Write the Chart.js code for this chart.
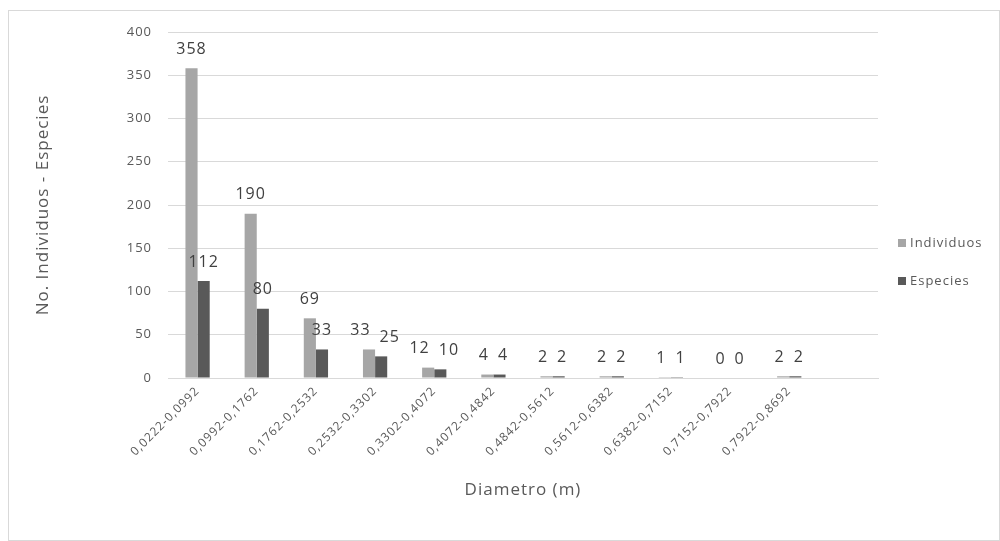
<!DOCTYPE html>
<html>
<head>
<meta charset="utf-8">
<script src="https://cdn.jsdelivr.net/npm/chart.js@4.4.0/dist/chart.umd.min.js"></script>
<style>
    html, body { margin: 0; padding: 0; background: #fff; }
    #frame {
        position: absolute; left: 8px; top: 10px;
        width: 990px; height: 529px;
        border: 1px solid #d9d9d9;
    }
    canvas { display: block; }
</style>
</head>
<body>
<div id="frame"><canvas id="chart" width="990" height="529"></canvas></div>
<script>
// Data (the source chart leaves one empty category at the end)
const categories = ['0,0222-0,0992', '0,0992-0,1762', '0,1762-0,2532', '0,2532-0,3302', '0,3302-0,4072',
    '0,4072-0,4842', '0,4842-0,5612', '0,5612-0,6382', '0,6382-0,7152', '0,7152-0,7922', '0,7922-0,8692', ''];
const individuos = [358, 190, 69, 33, 12, 4, 2, 2, 1, 0, 2];
const especies = [112, 80, 33, 25, 10, 4, 2, 2, 1, 0, 2];
const yTicks = [0, 50, 100, 150, 200, 250, 300, 350, 400];

const FONT = '"Open Sans", sans-serif';
const TEXT = '#595959';

// the source text is spaced out a bit, keep it on the context
const spacing = {
    id: 'spacing',
    beforeUpdate(chart) { chart.ctx.letterSpacing = '1px'; },
    beforeDraw(chart) { chart.ctx.letterSpacing = '1px'; }
};

// value labels above each bar; pairs that would touch are pushed apart
const barLabels = {
    id: 'barLabels',
    afterDatasetsDraw(chart) {
        const ctx = chart.ctx;
        const a = chart.getDatasetMeta(0).data;
        const b = chart.getDatasetMeta(1).data;
        const da = chart.data.datasets[0].data;
        const db = chart.data.datasets[1].data;
        ctx.save();
        ctx.font = '16px ' + FONT;
        ctx.fillStyle = '#404040';
        ctx.textAlign = 'center';
        ctx.textBaseline = 'middle';
        a.forEach((barA, j) => {
            const barB = b[j];
            const tA = String(da[j]), tB = String(db[j]);
            let xA = barA.x, xB = barB.x;
            const need = (ctx.measureText(tA).width + ctx.measureText(tB).width) / 2 + 9;
            const close = Math.abs(barA.y - barB.y) < 18;
            if (close && xB - xA < need) {
                const mid = (xA + xB) / 2;
                xA = mid - need / 2;
                xB = mid + need / 2;
            }
            ctx.fillText(tA, xA, barA.y - 19);
            ctx.fillText(tB, xB, barB.y - 19);
        });
        ctx.restore();
    }
};

// legend on the right, drawn from the datasets
const sideLegend = {
    id: 'sideLegend',
    afterDraw(chart) {
        const ctx = chart.ctx;
        const x = chart.chartArea.right + 20;
        const ys = [232, 270];
        ctx.save();
        ctx.font = '13px ' + FONT;
        ctx.textBaseline = 'middle';
        ctx.textAlign = 'left';
        chart.data.datasets.forEach((ds, i) => {
            ctx.fillStyle = ds.backgroundColor;
            ctx.fillRect(x, ys[i] - 4, 8, 8);
            ctx.fillStyle = TEXT;
            ctx.fillText(ds.label, x + 12, ys[i]);
        });
        ctx.restore();
    }
};

new Chart(document.getElementById('chart'), {
    type: 'bar',
    data: {
        labels: categories,
        datasets: [
            { label: 'Individuos', data: individuos, backgroundColor: '#a6a6a6' },
            { label: 'Especies', data: especies, backgroundColor: '#595959' }
        ]
    },
    options: {
        responsive: false,
        animation: false,
        layout: { padding: { top: 21, right: 121, bottom: 0, left: 0 } },
        datasets: { bar: { categoryPercentage: 0.41, barPercentage: 1.0 } },
        plugins: {
            legend: { display: false },
            tooltip: { enabled: false }
        },
        scales: {
            x: {
                grid: { display: false, drawTicks: false },
                border: { display: true, color: '#d9d9d9' },
                ticks: {
                    color: TEXT, font: { family: FONT, size: 12 },
                    minRotation: 45, maxRotation: 45, padding: 6, autoSkip: false
                },
                title: {
                    display: true, text: 'Diametro (m)', color: TEXT,
                    font: { family: FONT, size: 17 }, padding: { top: 4, bottom: 40 }
                },
                afterFit: s => { s.height = 162; }
            },
            y: {
                min: 0, max: 400,
                afterBuildTicks: s => { s.ticks = yTicks.map(v => ({ value: v })); },
                grid: { color: '#d9d9d9', drawTicks: false },
                border: { display: false },
                ticks: { color: TEXT, font: { family: FONT, size: 13, lineHeight: 1 }, padding: 16 },
                title: {
                    display: true, text: 'No. Individuos - Especies', color: TEXT,
                    font: { family: FONT, size: 17 }, padding: { top: 24, bottom: 4 }
                },
                afterFit: s => {
                    s.width = 159;
                    s.paddingTop = 0;
                }
            }
        }
    },
    plugins: [spacing, barLabels, sideLegend]
});
</script>
</body>
</html>
